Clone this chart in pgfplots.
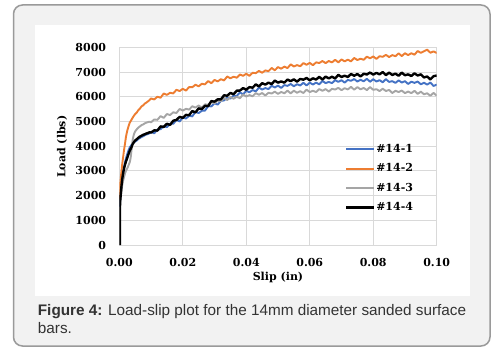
\documentclass[border=0pt]{standalone}
\usepackage{fontspec}
\setmainfont{Liberation Sans}
\newfontfamily\serifb{DejaVu Serif}
\usepackage{pgfplots}
\pgfplotsset{compat=1.18}
\definecolor{c1}{HTML}{4472C4}
\definecolor{c2}{HTML}{ED7D31}
\definecolor{c3}{HTML}{A5A5A5}
\definecolor{gridc}{HTML}{D9D9D9}
\definecolor{bgc}{HTML}{F2F2F2}
\definecolor{borderc}{HTML}{9A9A9A}
\definecolor{captc}{HTML}{333333}
\newcommand{\tickf}{\serifb\bfseries\fontsize{11}{13}\selectfont}
\begin{document}
\begin{tikzpicture}[x=1pt,y=1pt]
\useasboundingbox (0,0) rectangle (498,354);
\fill[white] (0,0) rectangle (498,354);
\draw[borderc, fill=bgc, line width=1.5pt, rounded corners=9pt] (13.5,8) rectangle (490,349);
\fill[white] (35,58) rectangle (470,329);
\begin{axis}[
  at={(119.3pt,109pt)}, anchor=south west, scale only axis,
  width=317.4pt, height=197.7pt,
  xmin=0, xmax=0.1, ymin=0, ymax=8000,
  xtick={0,0.02,0.04,0.06,0.08,0.1},
  ytick={0,1000,...,8000},
  grid=major, major grid style={draw=gridc, line width=0.8pt},
  axis line style={draw=gridc, line width=0.8pt},
  tick style={draw=none},
  scaled x ticks=false, scaled y ticks=false,
  /pgf/number format/assume math mode=true,
  xticklabel style={font=\tickf, anchor=center, yshift=-17.7pt,
    /pgf/number format/.cd, fixed, fixed zerofill, precision=2},
  yticklabel style={font=\tickf, anchor=east, inner sep=0pt, xshift=-13pt,
    /pgf/number format/.cd, 1000 sep={}},
  xlabel={Slip (in)}, ylabel={Load (lbs)},
  label style={font=\tickf},
  xlabel style={at={(axis description cs:0.5,-0.1654)}, anchor=center},
  ylabel style={at={(axis description cs:-0.1805,0.497)}, anchor=center},
  legend style={at={(axis description cs:0.711,0.516)}, anchor=north west,
    draw=none, fill=none, inner sep=0pt, row sep=7.5pt,
    font=\tickf, nodes={inner sep=1pt, text height=8pt, text depth=2pt}},
  legend cell align=left,
  legend image code/.code={\draw[#1] (0pt,0pt) -- (27.7pt,0pt);},
  every axis plot/.append style={line join=round},
]
% #14-1
\addplot[c1, line width=1.9pt] coordinates {
(0.0001,1550) (0.0003,1850) (0.0005,2150) (0.0007,2450) (0.0009,2700) (0.0012,2950) (0.0015,3150) (0.0018,3350) (0.0021,3500) (0.0025,3680) (0.0029,3830) (0.0033,3950) (0.0038,4040) (0.0042,4100) (0.0046,4150) (0.005,4190) (0.0055,4230) (0.006,4290) (0.0065,4330) (0.007,4370) (0.0075,4400) (0.008,4440) (0.0085,4470) (0.009,4490) (0.0095,4520)
(0.010,4580) (0.011,4520) (0.012,4670) (0.013,4685) (0.014,4805) (0.015,4770) (0.016,4905) (0.017,4905) (0.018,5065) (0.019,5000)
(0.020,5160) (0.021,5120) (0.022,5230) (0.023,5205) (0.024,5390) (0.025,5340) (0.026,5430) (0.027,5440) (0.028,5620) (0.029,5610)
(0.030,5740) (0.031,5680) (0.032,5830) (0.033,5850) (0.034,5975) (0.035,5925) (0.036,6045) (0.037,6030) (0.038,6175) (0.039,6095)
(0.040,6240) (0.041,6180) (0.042,6270) (0.043,6215) (0.044,6370) (0.045,6290) (0.046,6350) (0.047,6310) (0.048,6440) (0.049,6375)
(0.050,6450) (0.051,6355) (0.052,6470) (0.053,6440) (0.054,6515) (0.055,6425) (0.056,6505) (0.057,6455) (0.058,6565) (0.059,6455)
(0.060,6570) (0.061,6495) (0.062,6570) (0.063,6500) (0.064,6640) (0.065,6550) (0.066,6600) (0.067,6550) (0.068,6670) (0.069,6600)
(0.070,6670) (0.071,6570) (0.072,6680) (0.073,6645) (0.074,6715) (0.075,6615) (0.076,6685) (0.077,6625) (0.078,6725) (0.079,6605)
(0.080,6710) (0.081,6615) (0.082,6670) (0.083,6585) (0.084,6710) (0.085,6600) (0.086,6630) (0.087,6560) (0.088,6660) (0.089,6575)
(0.090,6630) (0.091,6515) (0.092,6610) (0.093,6560) (0.094,6615) (0.095,6505) (0.096,6565) (0.097,6490) (0.098,6575) (0.099,6435)
(0.100,6490)
};
\addlegendentry{\#14-1}
% #14-2
\addplot[c2, line width=1.9pt] coordinates {
(0.0000,1850) (0.0001,2100) (0.0003,2450) (0.0005,2750) (0.0007,3000) (0.0009,3250) (0.0012,3550) (0.0015,3850) (0.0018,4100) (0.0021,4380) (0.0025,4620) (0.0029,4800) (0.0033,4950) (0.0038,5060) (0.0042,5150) (0.0046,5230) (0.005,5300) (0.0055,5360) (0.006,5460) (0.0065,5520) (0.007,5610) (0.0075,5650) (0.008,5720) (0.0085,5760) (0.009,5810) (0.0095,5860)
(0.010,5930) (0.011,5890) (0.012,6000) (0.013,5960) (0.014,6130) (0.015,6075) (0.016,6160) (0.017,6135) (0.018,6280) (0.019,6230)
(0.020,6320) (0.021,6250) (0.022,6390) (0.023,6385) (0.024,6485) (0.025,6420) (0.026,6525) (0.027,6500) (0.028,6635) (0.029,6545)
(0.030,6680) (0.031,6620) (0.032,6710) (0.033,6660) (0.034,6820) (0.035,6745) (0.036,6810) (0.037,6770) (0.038,6900) (0.039,6845)
(0.040,6930) (0.041,6845) (0.042,6970) (0.043,6955) (0.044,7045) (0.045,6970) (0.046,7065) (0.047,7035) (0.048,7165) (0.049,7070)
(0.050,7200) (0.051,7135) (0.052,7220) (0.053,7160) (0.054,7310) (0.055,7225) (0.056,7280) (0.057,7235) (0.058,7360) (0.059,7295)
(0.060,7370) (0.061,7275) (0.062,7390) (0.063,7365) (0.064,7445) (0.065,7360) (0.066,7445) (0.067,7390) (0.068,7495) (0.069,7390)
(0.070,7510) (0.071,7430) (0.072,7500) (0.073,7430) (0.074,7570) (0.075,7485) (0.076,7540) (0.077,7495) (0.078,7620) (0.079,7555)
(0.080,7630) (0.081,7530) (0.082,7640) (0.083,7615) (0.084,7695) (0.085,7605) (0.086,7685) (0.087,7640) (0.088,7755) (0.089,7645)
(0.090,7760) (0.091,7685) (0.092,7760) (0.093,7700) (0.094,7850) (0.095,7775) (0.096,7840) (0.097,7905) (0.098,7780) (0.099,7835)
(0.100,7770)
};
\addlegendentry{\#14-2}
% #14-3
\addplot[c3, line width=1.9pt] coordinates {
(0.0001,1600) (0.0003,1800) (0.0005,2000) (0.0007,2200) (0.0009,2400) (0.0012,2600) (0.0015,2750) (0.0018,2900) (0.0021,3000) (0.0025,3100) (0.0029,3220) (0.0033,3350) (0.0036,3550) (0.0039,3900) (0.0042,4250) (0.0046,4480) (0.005,4600) (0.0055,4680) (0.006,4750) (0.0065,4800) (0.007,4850) (0.0075,4880) (0.008,4920) (0.0085,4950) (0.009,4970) (0.0095,4990)
(0.010,4965) (0.011,5080) (0.012,5065) (0.013,5215) (0.014,5145) (0.015,5300) (0.016,5260) (0.017,5370) (0.018,5340) (0.019,5505)
(0.020,5440) (0.021,5510) (0.022,5480) (0.023,5615) (0.024,5560) (0.025,5645) (0.026,5560) (0.027,5690) (0.028,5680) (0.029,5790)
(0.030,5735) (0.031,5840) (0.032,5815) (0.033,5950) (0.034,5865) (0.035,5990) (0.036,5920) (0.037,6000) (0.038,5940) (0.039,6090)
(0.040,6010) (0.041,6065) (0.042,6020) (0.043,6145) (0.044,6080) (0.045,6150) (0.046,6050) (0.047,6160) (0.048,6130) (0.049,6205)
(0.050,6115) (0.051,6193) (0.052,6140) (0.053,6248) (0.054,6135) (0.055,6245) (0.056,6160) (0.057,6225) (0.058,6150) (0.059,6285)
(0.060,6190) (0.061,6240) (0.062,6190) (0.063,6310) (0.064,6240) (0.065,6310) (0.066,6210) (0.067,6320) (0.068,6290) (0.069,6360)
(0.070,6265) (0.071,6345) (0.072,6295) (0.073,6400) (0.074,6285) (0.075,6390) (0.076,6300) (0.077,6355) (0.078,6270) (0.079,6390)
(0.080,6280) (0.081,6305) (0.082,6230) (0.083,6325) (0.084,6230) (0.085,6275) (0.086,6150) (0.087,6240) (0.088,6190) (0.089,6250)
(0.090,6145) (0.091,6210) (0.092,6145) (0.093,6240) (0.094,6115) (0.095,6205) (0.096,6100) (0.097,6140) (0.098,6040) (0.099,6155)
(0.100,6040)
};
\addlegendentry{\#14-3}
% #14-4
\addplot[black, line width=2.4pt] coordinates {
(0.0002,0) (0.0002,800) (0.0002,1500) (0.0003,1800) (0.0005,2100) (0.0007,2400) (0.0009,2650) (0.0012,2900) (0.0015,3100) (0.0018,3250) (0.0021,3380) (0.0025,3520) (0.0029,3680) (0.0033,3820) (0.0038,3950) (0.0042,4080) (0.0046,4160) (0.005,4230) (0.0055,4280) (0.006,4340) (0.0065,4390) (0.007,4420) (0.0075,4460) (0.008,4480) (0.0085,4510) (0.009,4530) (0.0095,4560)
(0.010,4550) (0.011,4640) (0.012,4630) (0.013,4800) (0.014,4780) (0.015,4905) (0.016,4860) (0.017,5030) (0.018,5060) (0.019,5185)
(0.020,5145) (0.021,5265) (0.022,5255) (0.023,5420) (0.024,5365) (0.025,5530) (0.026,5500) (0.027,5630) (0.028,5620) (0.029,5825)
(0.030,5800) (0.031,5895) (0.032,5890) (0.033,6060) (0.034,6040) (0.035,6155) (0.036,6100) (0.037,6245) (0.038,6250) (0.039,6350)
(0.040,6285) (0.041,6390) (0.042,6365) (0.043,6500) (0.044,6415) (0.045,6550) (0.046,6490) (0.047,6570) (0.048,6510) (0.049,6655)
(0.050,6570) (0.051,6620) (0.052,6570) (0.053,6695) (0.054,6630) (0.055,6705) (0.056,6610) (0.057,6720) (0.058,6690) (0.059,6760)
(0.060,6665) (0.061,6745) (0.062,6695) (0.063,6805) (0.064,6695) (0.065,6815) (0.066,6740) (0.067,6810) (0.068,6740) (0.069,6885)
(0.070,6800) (0.071,6850) (0.072,6800) (0.073,6920) (0.074,6850) (0.075,6920) (0.076,6820) (0.077,6930) (0.078,6900) (0.079,6980)
(0.080,6895) (0.081,6965) (0.082,6905) (0.083,7000) (0.084,6875) (0.085,6975) (0.086,6880) (0.087,6935) (0.088,6850) (0.089,6975)
(0.090,6870) (0.091,6905) (0.092,6840) (0.093,6945) (0.094,6860) (0.095,6905) (0.096,6780) (0.097,6820) (0.098,6700) (0.099,6830)
(0.100,6860)
};
\addlegendentry{\#14-4}
\end{axis}
\node[anchor=base west, inner sep=0pt, text=captc, font=\fontsize{15.3}{18}\selectfont] at (37.7,39) {\textbf{Figure 4:} Load-slip plot for the 14mm diameter sanded surface};
\node[anchor=base west, inner sep=0pt, text=captc, font=\fontsize{15.3}{18}\selectfont] at (37.7,20.7) {bars.};
\end{tikzpicture}
\end{document}
